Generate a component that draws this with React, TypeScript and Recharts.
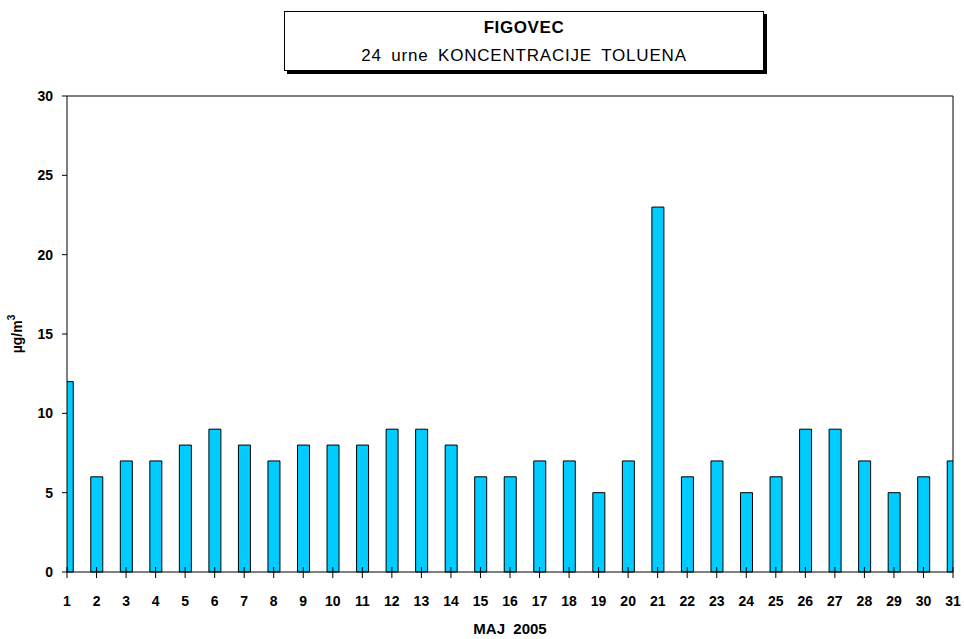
import React from 'react';
import { BarChart, Bar, XAxis, YAxis, ReferenceLine, Label } from 'recharts';

const days = [1, 2, 3, 4, 5, 6, 7, 8, 9, 10, 11, 12, 13, 14, 15, 16, 17, 18, 19, 20, 21, 22, 23, 24, 25, 26, 27, 28, 29, 30, 31];
const toluene = [12, 6, 7, 7, 8, 9, 8, 7, 8, 8, 8, 9, 9, 8, 6, 6, 7, 7, 5, 7, 23, 6, 7, 5, 6, 9, 9, 7, 5, 6, 7];
const yTicks = [0, 5, 10, 15, 20, 25, 30];

const chartData = days.map((day, i) => ({ day, value: toluene[i] }));

const FONT = '"Liberation Sans", Arial, sans-serif';
const X_TICK_SIZE = 6;
const X_TICK_MARGIN = 2;

const XTick = (props: any) => {
  const { x, y, payload } = props;
  const axisY = y - X_TICK_SIZE - X_TICK_MARGIN;
  return (
    <g>
      <line x1={x} x2={x} y1={axisY - 5} y2={axisY + 6} stroke="#000" />
      <text x={x} y={y + 26} textAnchor="middle" fontFamily={FONT} fontSize={14} fontWeight="bold" fill="#000">
        {payload.value}
      </text>
    </g>
  );
};

const YUnitLabel = (props: any) => {
  const { viewBox } = props;
  const cx = viewBox.x + 5;
  const cy = viewBox.y + viewBox.height / 2;
  return (
    <text
      x={cx}
      y={cy}
      transform={`rotate(-90, ${cx}, ${cy})`}
      textAnchor="middle"
      dominantBaseline="central"
      fontFamily={FONT}
      fontSize={14}
      fontWeight="bold"
      fill="#000"
    >
      µg/m<tspan fontSize={10} dy={-6}>3</tspan>
    </text>
  );
};

const App: React.FC = () => {
  return (
    <div style={{ position: 'absolute', left: 0, top: 0, width: 964, height: 639, background: '#fff' }}>
      <div
        style={{
          position: 'absolute',
          left: 284,
          top: 11,
          width: 478,
          height: 58,
          border: '1px solid #000',
          boxShadow: '3px 3px 0 #000',
          background: '#fff',
          fontFamily: FONT,
          textAlign: 'center',
          color: '#000',
        }}
      >
        <div
          style={{
            position: 'absolute',
            left: 0,
            right: 0,
            top: 6,
            lineHeight: '19px',
            fontSize: 17,
            fontWeight: 'bold',
            letterSpacing: 0.6,
          }}
        >
          FIGOVEC
        </div>
        <div
          style={{
            position: 'absolute',
            left: 0,
            right: 0,
            top: 34,
            lineHeight: '19px',
            fontSize: 17,
            letterSpacing: 0.8,
            wordSpacing: 4,
          }}
        >
          24 urne KONCENTRACIJE TOLUENA
        </div>
      </div>
      <BarChart
        width={964}
        height={639}
        data={chartData}
        margin={{ top: 96, right: 11, left: 12, bottom: 7 }}
      >
        <XAxis
          dataKey="day"
          type="number"
          domain={[1, 31]}
          ticks={days}
          interval={0}
          allowDataOverflow
          height={60}
          axisLine={{ stroke: '#000' }}
          tickLine={false}
          tickSize={X_TICK_SIZE}
          tickMargin={X_TICK_MARGIN}
          tick={<XTick />}
        >
          <Label
            value={'MAJ \u00A02005'}
            position="insideBottom"
            offset={-2}
            style={{ fontFamily: FONT, fontSize: 15, fontWeight: 'bold', fill: '#000' }}
          />
        </XAxis>
        <YAxis
          domain={[0, 30]}
          ticks={yTicks}
          width={55}
          axisLine={{ stroke: '#000' }}
          tickLine={{ stroke: '#000' }}
          tickSize={5}
          tickMargin={9}
          tick={{ fontFamily: FONT, fontSize: 14, fontWeight: 'bold', fill: '#000' }}
          label={<YUnitLabel />}
        />
        <ReferenceLine y={30} stroke="#000" ifOverflow="visible" />
        <ReferenceLine x={31} stroke="#000" ifOverflow="visible" />
        <Bar dataKey="value" fill="#00CCFF" stroke="#000" strokeWidth={1} barSize={12} isAnimationActive={false} />
      </BarChart>
    </div>
  );
};

export default App;
